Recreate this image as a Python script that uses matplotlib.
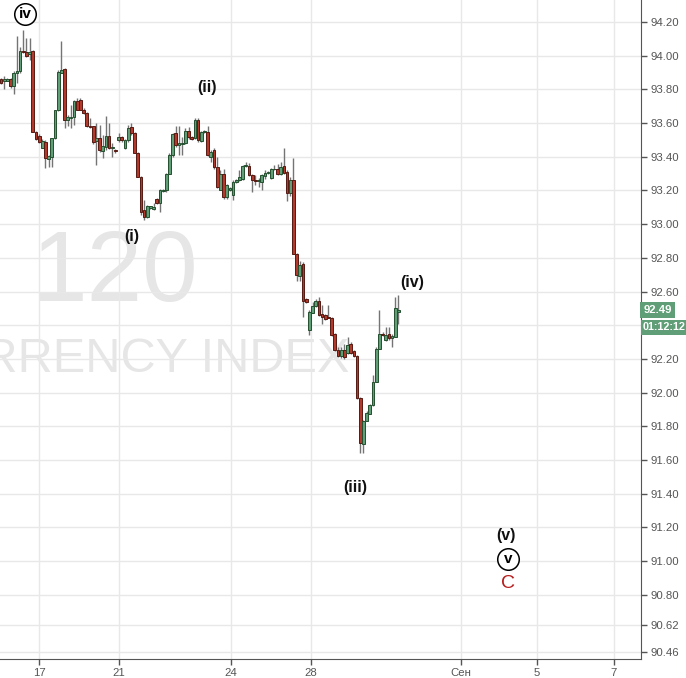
import matplotlib.pyplot as plt
import numpy as np

# 120-minute candles, U.S. Dollar Currency Index
opens = [93.86, 93.85, 93.85, 93.86, 93.82, 93.90, 93.91, 94.03, 94.025, 94.01,
         94.03, 93.55, 93.525, 93.455, 93.49, 93.385, 93.40, 93.51, 93.675, 93.90,
         93.92, 93.62, 93.63, 93.635, 93.73, 93.735, 93.68, 93.66, 93.585, 93.58,
         93.495, 93.51, 93.435, 93.46, 93.525, 93.455, 93.44, 93.50, 93.515, 93.45,
         93.50, 93.575, 93.54, 93.425, 93.28, 93.085, 93.045, 93.095, 93.09, 93.15,
         93.125, 93.195, 93.20, 93.30, 93.41, 93.54, 93.47, 93.475, 93.48, 93.555,
         93.515, 93.51, 93.62, 93.495, 93.545, 93.545, 93.40, 93.44, 93.34, 93.205,
         93.30, 93.16, 93.205, 93.175, 93.25, 93.26, 93.27, 93.345, 93.345, 93.29,
         93.26, 93.255, 93.25, 93.285, 93.305, 93.275, 93.325, 93.33, 93.30, 93.345,
         93.31, 93.185, 93.265, 92.825, 92.69, 92.765, 92.555, 92.37, 92.475, 92.515,
         92.545, 92.465, 92.46, 92.45, 92.445, 92.35, 92.255, 92.215, 92.255, 92.235,
         92.29, 92.245, 92.22, 91.97, 91.695, 91.83, 91.875, 91.925, 92.065, 92.26,
         92.35, 92.31, 92.345, 92.325, 92.33, 92.48]
highs = [93.87, 93.88, 93.87, 93.87, 93.91, 94.12, 94.05, 94.15, 94.105, 94.105,
         94.035, 93.555, 93.535, 93.505, 93.50, 93.41, 93.51, 93.68, 93.915, 94.085,
         93.925, 93.65, 93.71, 93.74, 93.75, 93.75, 93.69, 93.665, 93.63, 93.585,
         93.60, 93.59, 93.53, 93.64, 93.60, 93.48, 93.445, 93.54, 93.525, 93.505,
         93.59, 93.60, 93.55, 93.43, 93.285, 93.145, 93.115, 93.11, 93.125, 93.155,
         93.21, 93.21, 93.305, 93.42, 93.54, 93.58, 93.58, 93.52, 93.57, 93.575,
         93.525, 93.63, 93.63, 93.555, 93.56, 93.585, 93.44, 93.45, 93.40, 93.32,
         93.325, 93.24, 93.22, 93.265, 93.27, 93.32, 93.35, 93.37, 93.365, 93.30,
         93.29, 93.275, 93.30, 93.32, 93.315, 93.335, 93.35, 93.36, 93.37, 93.45,
         93.32, 93.28, 93.39, 92.83, 92.78, 92.775, 92.56, 92.49, 92.54, 92.555,
         92.565, 92.52, 92.465, 92.52, 92.45, 92.355, 92.27, 92.27, 92.29, 92.33,
         92.30, 92.255, 92.225, 91.975, 91.84, 91.89, 91.935, 92.105, 92.27, 92.49,
         92.36, 92.39, 92.39, 92.345, 92.57, 92.58]
lows = [93.83, 93.80, 93.85, 93.81, 93.77, 93.84, 93.90, 94.015, 93.995, 93.975,
        93.545, 93.50, 93.48, 93.45, 93.335, 93.34, 93.34, 93.505, 93.67, 93.895,
        93.57, 93.58, 93.57, 93.59, 93.675, 93.675, 93.655, 93.575, 93.57, 93.475,
        93.35, 93.43, 93.39, 93.44, 93.445, 93.40, 93.425, 93.49, 93.49, 93.445,
        93.49, 93.53, 93.42, 93.28, 93.055, 93.025, 93.035, 93.09, 93.085, 93.12,
        93.075, 93.19, 93.19, 93.295, 93.40, 93.46, 93.41, 93.41, 93.475, 93.505,
        93.50, 93.505, 93.49, 93.49, 93.54, 93.405, 93.37, 93.33, 93.215, 93.20,
        93.15, 93.15, 93.195, 93.145, 93.245, 93.255, 93.265, 93.34, 93.285, 93.19,
        93.235, 93.22, 93.20, 93.27, 93.30, 93.27, 93.32, 93.29, 93.29, 93.30,
        93.135, 93.165, 92.82, 92.66, 92.665, 92.45, 92.53, 92.34, 92.47, 92.51,
        92.455, 92.41, 92.43, 92.44, 92.335, 92.245, 92.21, 92.205, 92.20, 92.23,
        92.23, 92.21, 91.96, 91.64, 91.64, 91.83, 91.87, 91.92, 92.06, 92.26,
        92.335, 92.305, 92.315, 92.27, 92.33, 92.41]
closes = [93.84, 93.86, 93.86, 93.82, 93.90, 93.91, 94.03, 94.02, 94.00, 94.02,
          93.55, 93.505, 93.485, 93.495, 93.39, 93.405, 93.51, 93.675, 93.905, 93.915,
          93.62, 93.635, 93.635, 93.73, 93.68, 93.68, 93.66, 93.58, 93.575, 93.49,
          93.51, 93.44, 93.465, 93.525, 93.45, 93.46, 93.432, 93.515, 93.50, 93.50,
          93.57, 93.54, 93.425, 93.28, 93.075, 93.045, 93.105, 93.105, 93.10, 93.125,
          93.20, 93.205, 93.30, 93.41, 93.535, 93.47, 93.48, 93.48, 93.555, 93.515,
          93.505, 93.62, 93.50, 93.55, 93.555, 93.41, 93.43, 93.34, 93.22, 93.30,
          93.16, 93.23, 93.215, 93.25, 93.26, 93.28, 93.345, 93.35, 93.29, 93.26,
          93.255, 93.265, 93.29, 93.305, 93.31, 93.33, 93.33, 93.30, 93.34, 93.305,
          93.185, 93.26, 92.825, 92.70, 92.755, 92.545, 92.535, 92.48, 92.515, 92.545,
          92.46, 92.45, 92.435, 92.445, 92.34, 92.255, 92.215, 92.255, 92.21, 92.28,
          92.235, 92.215, 91.965, 91.70, 91.83, 91.88, 91.925, 92.065, 92.26, 92.35,
          92.34, 92.34, 92.325, 92.335, 92.50, 92.49]

date_labels = ['17', '21', '24', '28', 'Сен', '5', '7']
date_bars = [11.95, 37.1, 72.3, 97.5, 144.7, 168.6, 192.8]
price_ticks = [94.2, 94.0, 93.8, 93.6, 93.4, 93.2, 93.0, 92.8, 92.6, 92.4,
               92.2, 92.0, 91.8, 91.6, 91.4, 91.2, 91.0, 90.8, 90.62, 90.46]
last_price = 92.49
countdown = '01:12:12'

# Elliott wave marks: text, bar position, price, circled?
waves = [('iv', 7.55, 94.248, True), ('(ii)', 64.8, 93.814, False),
         ('(i)', 41.2, 92.924, False), ('(iv)', 129.2, 92.651, False),
         ('(iii)', 111.3, 91.439, False), ('(v)', 158.8, 91.154, False),
         ('v', 159.4, 91.012, True)]

o = np.array(opens); h = np.array(highs); l = np.array(lows); c = np.array(closes)
idx = np.arange(len(o))
up = c >= o

fig = plt.figure(figsize=(6.86, 6.78), dpi=100)
ax = fig.add_axes([0, 19 / 678, 641 / 686, 659 / 678])
ax.set_xlim(-0.31, 201.3)
ax.set_ylim(90.418, 94.331)

# watermarks
ax.text(0.179, 0.582, '120', transform=ax.transAxes, ha='center', va='center',
        fontsize=72, color='#e6e6e6', family='Liberation Sans', zorder=0)
ax.text(0.545, 0.454, 'U.S. DOLLAR CURRENCY INDEX', transform=ax.transAxes,
        ha='right', va='center', fontsize=35, color='#e6e6e6',
        family='Liberation Sans', zorder=0)

ax.vlines(idx, l, h, color='#747474', lw=1, zorder=2)
body_h = np.maximum(np.abs(c - o), 0.004)
ax.bar(idx, body_h, bottom=np.minimum(o, c), width=0.86,
       color=np.where(up, '#5f9e76', '#b3392c'),
       edgecolor=np.where(up, '#24502f', '#561a13'), lw=0.7, zorder=3)

ax.set_yticks(price_ticks)
# 92.40 sits under the last-price boxes on the scale
ax.set_yticklabels(['' if abs(p - 92.4) < 1e-6 else '%.2f' % p for p in price_ticks])
ax.set_xticks(date_bars)
ax.set_xticklabels(date_labels)
ax.yaxis.tick_right()
ax.grid(True, color='#e8e8e8', lw=1, zorder=1)
ax.set_axisbelow(True)
for s in ['top', 'left']:
    ax.spines[s].set_visible(False)
for s in ['right', 'bottom']:
    ax.spines[s].set_color('#555555')
ax.tick_params(axis='both', colors='#555555', labelsize=8.2, length=4, width=1)
ax.tick_params(axis='y', pad=3)
ax.tick_params(axis='x', pad=2.5)
for t in ax.get_xticklabels() + ax.get_yticklabels():
    t.set_family('Liberation Sans')

# wave labels
for txt, xb, yp, circ in waves:
    if circ:
        ax.plot(xb, yp, 'o', ms=15.5, mfc='white', mec='black', mew=1.1,
                zorder=5, clip_on=False)
        ax.text(xb, yp, txt, ha='center', va='center', fontsize=11,
                weight='bold', family='Liberation Sans', zorder=6)
    else:
        ax.text(xb, yp, txt, ha='center', va='center', fontsize=11.5,
                weight='bold', family='Liberation Sans', color='#111111', zorder=6)
ax.text(159.4, 90.869, 'C', ha='center', va='center', fontsize=14,
        color='#b71c1c', family='Liberation Sans', zorder=6)

# last price and countdown boxes on the price scale
ytr = ax.get_yaxis_transform()
ax.text(1.004, last_price, '92.49', transform=ytr, ha='left', va='center',
        fontsize=8.2, weight='bold', color='white', family='Liberation Sans',
        bbox=dict(boxstyle='square,pad=0.3', fc='#5f9e76', ec='none'),
        clip_on=False, zorder=10)
ax.annotate(countdown, xy=(1.0, last_price), xycoords=ytr, xytext=(1.5, -12.5),
            textcoords='offset points', ha='left', va='center', fontsize=7.8,
            weight='bold', color='white', family='Liberation Sans',
            bbox=dict(boxstyle='square,pad=0.2', fc='#5f9e76', ec='none'),
            annotation_clip=False, zorder=10)

fig.savefig('out.png', dpi=100, facecolor='white')
